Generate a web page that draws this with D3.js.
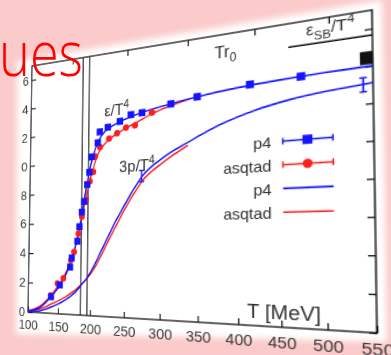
<!DOCTYPE html>
<html><head><meta charset="utf-8">
<script src="https://cdn.jsdelivr.net/npm/d3@7"></script>
<style>
html,body{margin:0;padding:0;width:391px;height:355px;overflow:hidden;background:#fbcaca;}
#back,#front{position:absolute;left:0;top:0;}
#wrap{position:absolute;left:0;top:0;width:460px;height:380px;transform-origin:0 0;}
#chart{display:block;}
</style></head><body>
<svg id="back" width="391" height="355"></svg>
<div id="wrap"><svg id="chart" width="460" height="380"></svg></div>
<svg id="front" width="391" height="355"></svg>
<script>
// ---------------- data ----------------
const xTicks = [100,150,200,250,300,350,400,450,500,550];
const yTicks = [0,2,4,6,8,10,12,14,16];
const topTicksT = [168.3,252.4,336.5,420.7,504.8];   // T r0 = 0.4 ... 1.2
const tcBand = [185,195];

// energy density points e/T^4
const p4T   = [138,152,168,170.5,179,182,185.5,189,193.5,196.5,200,209,212,224,242,258,274,314,349,415,474];
const p4E   = [1.1,1.9,3.1,3.7,4.8,5.75,6.7,7.4,8.5,9.3,10.3,11.2,11.9,12.15,12.45,12.8,12.85,13.2,13.45,13.8,13.9];
const asqT  = [137.5,148,157.5,169,174,180.5,185.5,192,197.5,202.5,205,212.5,226,238,251,264,288];
const asqE  = [1.2,2.0,2.35,3.55,4.1,5.3,6.4,7.5,8.7,9.3,10.3,10.9,11.4,11.7,12.0,12.1,12.8];

// fit curves e/T^4
const p4EfitT  = [100,120,138,150,160,170,180,185,190,195,200,205,210,220,235,260,300,350,400,450,500,550];
const p4EfitV  = [0.08,0.35,1.1,1.75,2.45,3.55,5.2,6.4,7.8,9.0,10.0,10.75,11.3,11.9,12.3,12.7,13.1,13.45,13.7,13.85,13.95,14.0];
const asqEfitT = [100,120,138,150,160,170,180,185,190,195,200,205,210,220,235,250,265,290,315,340];
const asqEfitV = [0.1,0.45,1.2,1.9,2.6,3.6,5.1,6.2,7.3,8.3,9.2,9.9,10.5,11.1,11.6,11.95,12.25,12.75,13.1,13.37];

// 3p/T^4 curves
const p4PT  = [100,120,140,160,175,185,195,205,215,225,235,245,260,275,300,340,380,420,460,500,540,550];
const p4PV  = [0.0,0.12,0.45,0.9,1.4,1.9,2.45,3.2,4.1,5.0,5.9,6.7,7.85,8.85,9.8,10.8,11.65,12.25,12.65,12.9,13.05,13.1];
const asqPT = [100,120,140,160,175,185,195,205,215,225,235,245,260,275,300,337];
const asqPV = [0.03,0.25,0.65,1.1,1.55,1.95,2.4,3.0,3.8,4.7,5.55,6.4,7.55,8.55,9.5,10.55];

// 3p error bars (p4)
const errT = [274,540];
const errV = [8.85,13.03];
const errD = [0.35,0.38];

// SB limit
const sbValue = 15.65;
const sbRange = [460,550];
const sbBoxT = [537,550];
const sbBoxV = [14.1,14.8];

const legendLabels = ["p4","asqtad","p4","asqtad"];
const blue = "#1414ff", red = "#ff1e1e";

// ---------------- layout ----------------
const mL = 60, mT = 30, W = 350, H = 280;
const x = d3.scaleLinear().domain([100,550]).range([mL, mL+W]);
const y = d3.scaleLinear().domain([0,17]).range([mT+H, mT]);

// perspective of the photographed slide
function solve(A,b){
  const n=b.length; const M=A.map((r,i)=>r.concat([b[i]]));
  for(let c=0;c<n;c++){
    let p=c; for(let r=c+1;r<n;r++) if(Math.abs(M[r][c])>Math.abs(M[p][c])) p=r;
    [M[c],M[p]]=[M[p],M[c]];
    for(let r=0;r<n;r++){ if(r===c) continue; const f=M[r][c]/M[c][c];
      for(let k=c;k<=n;k++) M[r][k]-=f*M[c][k]; }
  }
  return M.map((r,i)=>r[n]/r[i]);
}
function homog(src,dst){
  const A=[],b=[];
  for(let i=0;i<4;i++){const [sx,sy]=src[i],[X,Y]=dst[i];
    A.push([sx,sy,1,0,0,0,-X*sx,-X*sy]); b.push(X);
    A.push([0,0,0,sx,sy,1,-Y*sx,-Y*sy]); b.push(Y);}
  return solve(A,b);
}
const h = homog([[mL,mT],[mL+W,mT],[mL+W,mT+H],[mL,mT+H]],
                [[32,66],[372,10],[377,333],[28,312]]);
document.getElementById("wrap").style.transform =
  `matrix3d(${h[0]},${h[3]},0,${h[6]},${h[1]},${h[4]},0,${h[7]},0,0,1,0,${h[2]},${h[5]},0,1)`;

// ---------------- back: white photo area ----------------
const back = d3.select("#back");
back.append("defs").append("filter").attr("id","soft").attr("x","-10%").attr("y","-10%").attr("width","120%").attr("height","120%")
  .append("feGaussianBlur").attr("stdDeviation",3);
back.append("polygon").attr("points","17,61 382,0 387,342 200,337 16,334")
  .attr("fill","#fff").attr("filter","url(#soft)");

// ---------------- chart ----------------
const svg = d3.select("#chart");
svg.append("defs").append("clipPath").attr("id","crop")
  .append("rect").attr("x",47).attr("y",0).attr("width",413).attr("height",380);
const g = svg.append("g").attr("clip-path","url(#crop)")
  .style("font-family","'Liberation Sans', Arial, sans-serif");

// Tc band lines
g.selectAll(".tc").data(tcBand).join("line")
  .attr("x1",d=>x(d)).attr("x2",d=>x(d)).attr("y1",y(0)).attr("y2",y(17))
  .attr("stroke","#222").attr("stroke-width",1.3);

// axes
const axB = g.append("g").attr("transform",`translate(0,${mT+H})`)
  .call(d3.axisBottom(x).tickValues(xTicks).tickSizeInner(-6).tickSizeOuter(0).tickPadding(8));
const axL = g.append("g").attr("transform",`translate(${mL},0)`)
  .call(d3.axisLeft(y).tickValues(yTicks).tickSizeInner(-6).tickSizeOuter(0).tickPadding(4));
const axR = g.append("g").attr("transform",`translate(${mL+W},0)`)
  .call(d3.axisRight(y).tickValues(yTicks).tickSizeInner(-6).tickSizeOuter(0).tickFormat(""));
const axT = g.append("g").attr("transform",`translate(0,${mT})`)
  .call(d3.axisTop(x).tickValues(topTicksT).tickSizeInner(-6).tickSizeOuter(0).tickFormat(""));
[axB,axL,axR,axT].forEach(a=>{
  a.select(".domain").remove();
  a.selectAll(".tick line").attr("stroke","#111").attr("stroke-width",1.2);
  a.selectAll("text").attr("fill","#3a3a3a").style("font-size","15px").style("font-family","'Liberation Sans', Arial, sans-serif");
});
g.append("rect").attr("x",mL).attr("y",mT).attr("width",W).attr("height",H)
  .attr("fill","none").attr("stroke","#111").attr("stroke-width",1.3);

// SB line and box
g.append("line").attr("x1",x(sbRange[0])).attr("x2",x(sbRange[1]))
  .attr("y1",y(sbValue)).attr("y2",y(sbValue)).attr("stroke","#111").attr("stroke-width",1.3);
g.append("rect").attr("x",x(sbBoxT[0])).attr("width",x(sbBoxT[1])-x(sbBoxT[0]))
  .attr("y",y(sbBoxV[1])).attr("height",y(sbBoxV[0])-y(sbBoxV[1])).attr("fill","#111");

// curves
const line = d3.line().x(d=>x(d[0])).y(d=>y(d[1])).curve(d3.curveMonotoneX);
const zip = (a,b)=>a.map((v,i)=>[v,b[i]]);
function curve(T,V,col){ g.append("path").datum(zip(T,V)).attr("d",line)
  .attr("fill","none").attr("stroke",col).attr("stroke-width",1.6); }
curve(asqPT,asqPV,red);
curve(p4PT,p4PV,blue);
curve(asqEfitT,asqEfitV,red);
curve(p4EfitT,p4EfitV,blue);

// error bars
const eb = g.selectAll(".eb").data(zip(errT,errV).map((d,i)=>[d[0],d[1],errD[i]])).join("g");
eb.append("line").attr("x1",d=>x(d[0])).attr("x2",d=>x(d[0])).attr("y1",d=>y(d[1]-d[2])).attr("y2",d=>y(d[1]+d[2]));
eb.append("line").attr("x1",d=>x(d[0])-3).attr("x2",d=>x(d[0])+3).attr("y1",d=>y(d[1]-d[2])).attr("y2",d=>y(d[1]-d[2]));
eb.append("line").attr("x1",d=>x(d[0])-3).attr("x2",d=>x(d[0])+3).attr("y1",d=>y(d[1]+d[2])).attr("y2",d=>y(d[1]+d[2]));
eb.selectAll("line").attr("stroke",blue).attr("stroke-width",1.4);

// points
g.selectAll(".asq").data(zip(asqT,asqE)).join("circle")
  .attr("cx",d=>x(d[0])).attr("cy",d=>y(d[1])).attr("r",3.5).attr("fill",red);
const s=7.5;
g.selectAll(".p4").data(zip(p4T,p4E)).join("rect")
  .attr("x",d=>x(d[0])-s/2).attr("y",d=>y(d[1])-s/2).attr("width",s).attr("height",s).attr("fill",blue);

// labels
function label(tx,ty,parts,size,anchor){
  const t=g.append("text").attr("x",x(tx)).attr("y",y(ty)).attr("text-anchor",anchor||"middle")
    .attr("fill","#333").style("font-size",size+"px");
  parts.forEach(p=>{ const sp=t.append("tspan").text(p[0]);
    if(p[1]==="sup") sp.attr("dy",-size*0.4).style("font-size",(size*0.72)+"px");
    if(p[1]==="sub") sp.attr("dy",size*0.3).style("font-size",(size*0.72)+"px");
    if(p[1]==="back") sp.attr("dy",-size*0.3);
  });
  return t;
}
label(237,12.9,[["ε/T"],["4","sup"]],16.5);
label(267,9.19,[["3p/T"],["4","sup"]],16.5);
label(385,15.63,[["Tr"],["0","sub"]],16.5);
label(506,16.12,[["ε"],["SB","sub"],["/T","back"],["4","sup"]],15);
label(452,0.4,[["T [MeV]"]],18.5);

// legend
const rowY = d3.range(4).map(i=>10.35 - i*1.33);
const lg = g.append("g");
legendLabels.forEach((lab,i)=>{
  const col = i%2===0 ? blue : red;
  const yy = y(rowY[i]);
  lg.append("text").attr("x",x(440)).attr("y",yy+5.3).attr("text-anchor","end")
    .attr("fill","#333").style("font-size","15px").text(lab);
  lg.append("line").attr("x1",x(453)).attr("x2",x(508)).attr("y1",yy).attr("y2",yy)
    .attr("stroke",col).attr("stroke-width",1.6);
  if(i<2){
    [453,508].forEach(t=>lg.append("line").attr("x1",x(t)).attr("x2",x(t)).attr("y1",yy-3).attr("y2",yy+3)
      .attr("stroke",col).attr("stroke-width",1.4));
    if(i===0) lg.append("rect").attr("x",x(480.5)-4.2).attr("y",yy-4.2).attr("width",8.4).attr("height",8.4).attr("fill",col);
    else lg.append("circle").attr("cx",x(480.5)).attr("cy",yy).attr("r",4.2).attr("fill",col);
  }
});

// ---------------- front: slide title fragment ----------------
d3.select("#front").append("text").attr("x",-1).attr("y",76)
  .attr("fill","#ff0000").style("font-family","'Open Sans', 'Noto Sans', sans-serif")
  .style("font-weight",300).style("font-size","62px")
  .attr("textLength",84).attr("lengthAdjust","spacingAndGlyphs").text("ues");
</script></body></html>
